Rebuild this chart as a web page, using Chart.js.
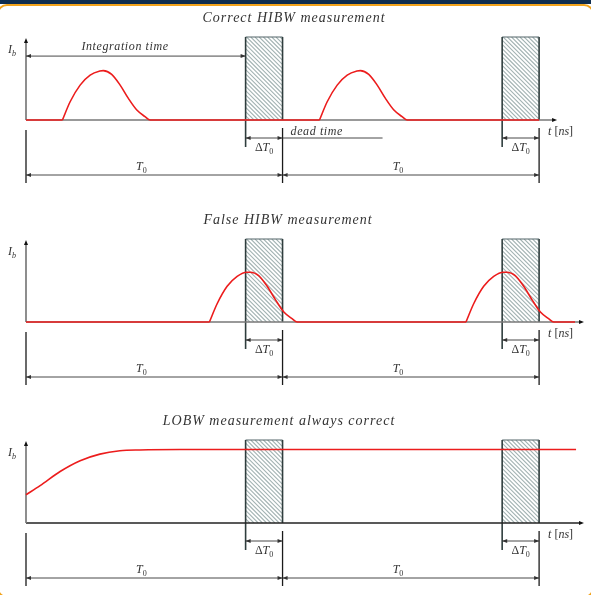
<!DOCTYPE html>
<html>
<head>
<meta charset="utf-8">
<script src="https://cdn.jsdelivr.net/npm/chart.js@4.4.1/dist/chart.umd.min.js"></script>
<style>
  html, body { margin: 0; padding: 0; background: #fff; }
  body { width: 591px; height: 595px; position: relative; overflow: hidden; }
  .frame { position: absolute; left: -3px; right: -3px; top: 4px; bottom: -3px; border: 2px solid #f2a31c; border-radius: 10px; }
  .bar { position: absolute; left: 0; top: 0; width: 591px; height: 4px; background: #0f2d4f; }
  canvas { position: absolute; left: 0; }
</style>
</head>
<body>
<div class="frame"></div>
<div class="bar"></div>
<canvas id="correct" width="591" height="200" style="top:0"></canvas>
<canvas id="false" width="591" height="200" style="top:202px"></canvas>
<canvas id="lobw" width="591" height="192" style="top:403px"></canvas>
<script>
// time axis in % of T0, current in units of the gate height
const periodEnds = [100, 200];   // T0, 2 T0
const gateWidth = 14.4;          // Delta T0

const correctT  = [0, 14.2, 17.2, 21.1, 25.0, 28.8, 30.1, 33.4, 36.7, 39.9, 43.2, 46.4, 48.4,
                   114.4, 117.4, 121.3, 125.2, 129.0, 130.3, 133.6, 136.9, 140.1, 143.4, 146.6, 148.6, 200];
const correctIb = [0, 0, 0.22, 0.42, 0.54, 0.59, 0.595, 0.55, 0.42, 0.26, 0.12, 0.04, 0,
                   0, 0.22, 0.42, 0.54, 0.59, 0.595, 0.55, 0.42, 0.26, 0.12, 0.04, 0, 0];

const falseT  = [0, 71.5, 74.5, 78.4, 82.3, 86.1, 87.4, 90.7, 94.0, 97.2, 100.5, 103.7, 105.7,
                 171.5, 174.5, 178.4, 182.3, 186.1, 187.4, 190.7, 194.0, 197.2, 200.5, 203.7, 205.7, 214];
const falseIb = [0, 0, 0.22, 0.43, 0.55, 0.6, 0.6, 0.56, 0.43, 0.27, 0.12, 0.04, 0,
                 0, 0.22, 0.43, 0.55, 0.6, 0.6, 0.56, 0.43, 0.27, 0.12, 0.04, 0, 0];

const lobwT  = [0, 5.5, 13.3, 21.1, 28.8, 36.6, 44.4, 60, 214.4];
const lobwIb = [0.34, 0.45, 0.62, 0.75, 0.83, 0.87, 0.88, 0.885, 0.885];

const RED = '#ec1c1c';
const INK = '#333';
const FONT = '"Liberation Serif", "DejaVu Serif", serif';

function arrowHead(ctx, x, y, dir, color) {
  // dir: 1 right, -1 left, 'up'
  ctx.fillStyle = color;
  ctx.beginPath();
  if (dir === 'up') {
    ctx.moveTo(x, y); ctx.lineTo(x - 2, y + 5); ctx.lineTo(x + 2, y + 5);
  } else {
    ctx.moveTo(x, y); ctx.lineTo(x - dir * 5, y - 2); ctx.lineTo(x - dir * 5, y + 2);
  }
  ctx.closePath();
  ctx.fill();
}

function line(ctx, x1, y1, x2, y2, color, w) {
  ctx.strokeStyle = color; ctx.lineWidth = w;
  ctx.beginPath(); ctx.moveTo(x1, y1); ctx.lineTo(x2, y2); ctx.stroke();
}

function dimLine(ctx, x1, x2, y) {
  line(ctx, x1, y, x2, y, INK, 0.9);
  arrowHead(ctx, x1, y, -1, INK);
  arrowHead(ctx, x2, y, 1, INK);
}

function drawRuns(ctx, runs, x, y, size, align) {
  const fontOf = r => (r.it ? 'italic ' : '') + (r.sub ? Math.round(size * 0.7) : size) + 'px ' + FONT;
  let w = 0;
  runs.forEach(r => { ctx.font = fontOf(r); w += ctx.measureText(r.t).width; });
  let cx = align === 'center' ? x - w / 2 : x;
  ctx.fillStyle = INK;
  ctx.textAlign = 'left';
  ctx.textBaseline = 'middle';
  runs.forEach(r => {
    ctx.font = fontOf(r);
    ctx.fillText(r.t, cx, r.sub ? y + size * 0.3 : y);
    cx += ctx.measureText(r.t).width;
  });
}

function hatchBox(ctx, x1, yTop, x2, yBot) {
  ctx.save();
  ctx.fillStyle = '#fff';
  ctx.fillRect(x1, yTop, x2 - x1, yBot - yTop);
  ctx.beginPath();
  ctx.rect(x1, yTop, x2 - x1, yBot - yTop);
  ctx.clip();
  ctx.strokeStyle = '#a2b2b2';
  ctx.lineWidth = 1.1;
  const h = yBot - yTop;
  for (let x = x1 - h; x < x2; x += 4.2) {
    ctx.beginPath(); ctx.moveTo(x, yTop); ctx.lineTo(x + h, yBot); ctx.stroke();
  }
  ctx.restore();
  line(ctx, x1, yTop, x2, yTop, '#55666a', 1.2);
}

function schematic(panel) {
  return {
    id: 'schematic',
    beforeDatasetsDraw(chart) {
      const ctx = chart.ctx, xs = chart.scales.x, ys = chart.scales.y;
      const X = v => xs.getPixelForValue(v), Y = v => ys.getPixelForValue(v);
      const y0 = Y(0);
      ctx.save();

      // title
      ctx.font = 'italic 14px ' + FONT;
      ctx.letterSpacing = '1px';
      ctx.fillStyle = INK;
      ctx.textAlign = 'center';
      ctx.textBaseline = 'middle';
      ctx.fillText(panel.title, panel.titleX, 18);
      ctx.letterSpacing = '0px';

      // gates
      periodEnds.forEach(p => {
        const a = X(p - gateWidth), b = X(p);
        hatchBox(ctx, a, Y(1), b, y0);
        line(ctx, a, Y(1), a, y0 + 27, '#2f3d3d', 1.6);
        line(ctx, b, Y(1), b, y0, '#2f3d3d', 1.6);
        line(ctx, b, y0 + 8, b, y0 + 63, '#1a1a1a', 1.3);
        dimLine(ctx, a, b, y0 + 18);
        drawRuns(ctx, [{t: 'Δ'}, {t: 'T', it: true}, {t: '0', sub: true}], (a + b) / 2, y0 + 28, 12, 'center');
      });

      // period dimensions
      line(ctx, X(0), y0 + 10, X(0), y0 + 63, '#444', 1.6);
      let start = 0;
      periodEnds.forEach(p => {
        dimLine(ctx, X(start), X(p), y0 + 55);
        drawRuns(ctx, [{t: 'T', it: true}, {t: '0', sub: true}], X(start) + (X(p) - X(start)) * 0.45, y0 + 47, 12, 'center');
        start = p;
      });

      // axes
      line(ctx, X(0), y0, X(panel.axisEnd) - 3, y0, panel.axisColor, 1.3);
      arrowHead(ctx, X(panel.axisEnd), y0, 1, '#111');
      line(ctx, X(0), y0, X(0), Y(1) + 4, '#7a7a7a', 1.7);
      arrowHead(ctx, X(0), Y(1) + 1, 'up', '#111');
      drawRuns(ctx, [{t: 'I', it: true}, {t: 'b', it: true, sub: true}], 8, y0 - 70, 12, 'left');
      drawRuns(ctx, [{t: 't', it: true}, {t: ' ['}, {t: 'ns', it: true}, {t: ']'}], X(200) + 9, y0 + 12, 12, 'left');

      if (panel.annotate) {
        const yI = Y(0.77);
        dimLine(ctx, X(0), X(periodEnds[0] - gateWidth), yI);
        ctx.letterSpacing = '0.6px';
        drawRuns(ctx, [{t: 'Integration time', it: true}], X(38.6), yI - 9, 12, 'center');
        drawRuns(ctx, [{t: 'dead time', it: true}], X(periodEnds[0]) + 8, y0 + 12, 12, 'left');
        ctx.letterSpacing = '0px';
        line(ctx, X(periodEnds[0]), y0 + 18, X(periodEnds[0]) + 100, y0 + 18, INK, 0.9);
      }
      ctx.restore();
    }
  };
}

// a pulse leaving the baseline starts with a kink, so the line is broken there
function toPoints(t, ib) {
  const pts = [];
  t.forEach((v, i) => {
    pts.push({x: v, y: ib[i]});
    if (ib[i] === 0 && ib[i + 1] > 0) {
      pts.push({x: v, y: null});
      pts.push({x: v, y: ib[i]});
    }
  });
  return pts;
}

function makeChart(id, t, ib, panel) {
  const canvas = document.getElementById(id);
  return new Chart(canvas, {
    type: 'line',
    data: {
      datasets: [{
        data: toPoints(t, ib),
        borderColor: RED,
        borderWidth: 1.6,
        pointRadius: 0,
        cubicInterpolationMode: 'monotone',
        spanGaps: false,
        clip: false
      }]
    },
    options: {
      responsive: false,
      animation: false,
      devicePixelRatio: 1,
      events: [],
      layout: { padding: { left: 26, right: 7, top: 37, bottom: canvas.height - 120 } },
      scales: {
        x: { type: 'linear', min: 0, max: 217.5, display: false },
        y: { min: 0, max: 1, display: false }
      },
      plugins: { legend: { display: false }, tooltip: { enabled: false } }
    },
    plugins: [schematic(panel)]
  });
}

makeChart('correct', correctT, correctIb,
  { title: 'Correct HIBW measurement', titleX: 294, axisEnd: 207, axisColor: '#777', annotate: true });
makeChart('false', falseT, falseIb,
  { title: 'False HIBW measurement', titleX: 288, axisEnd: 217.5, axisColor: '#777', annotate: false });
makeChart('lobw', lobwT, lobwIb,
  { title: 'LOBW measurement always correct', titleX: 279, axisEnd: 217.5, axisColor: '#222', annotate: false });
</script>
</body>
</html>
